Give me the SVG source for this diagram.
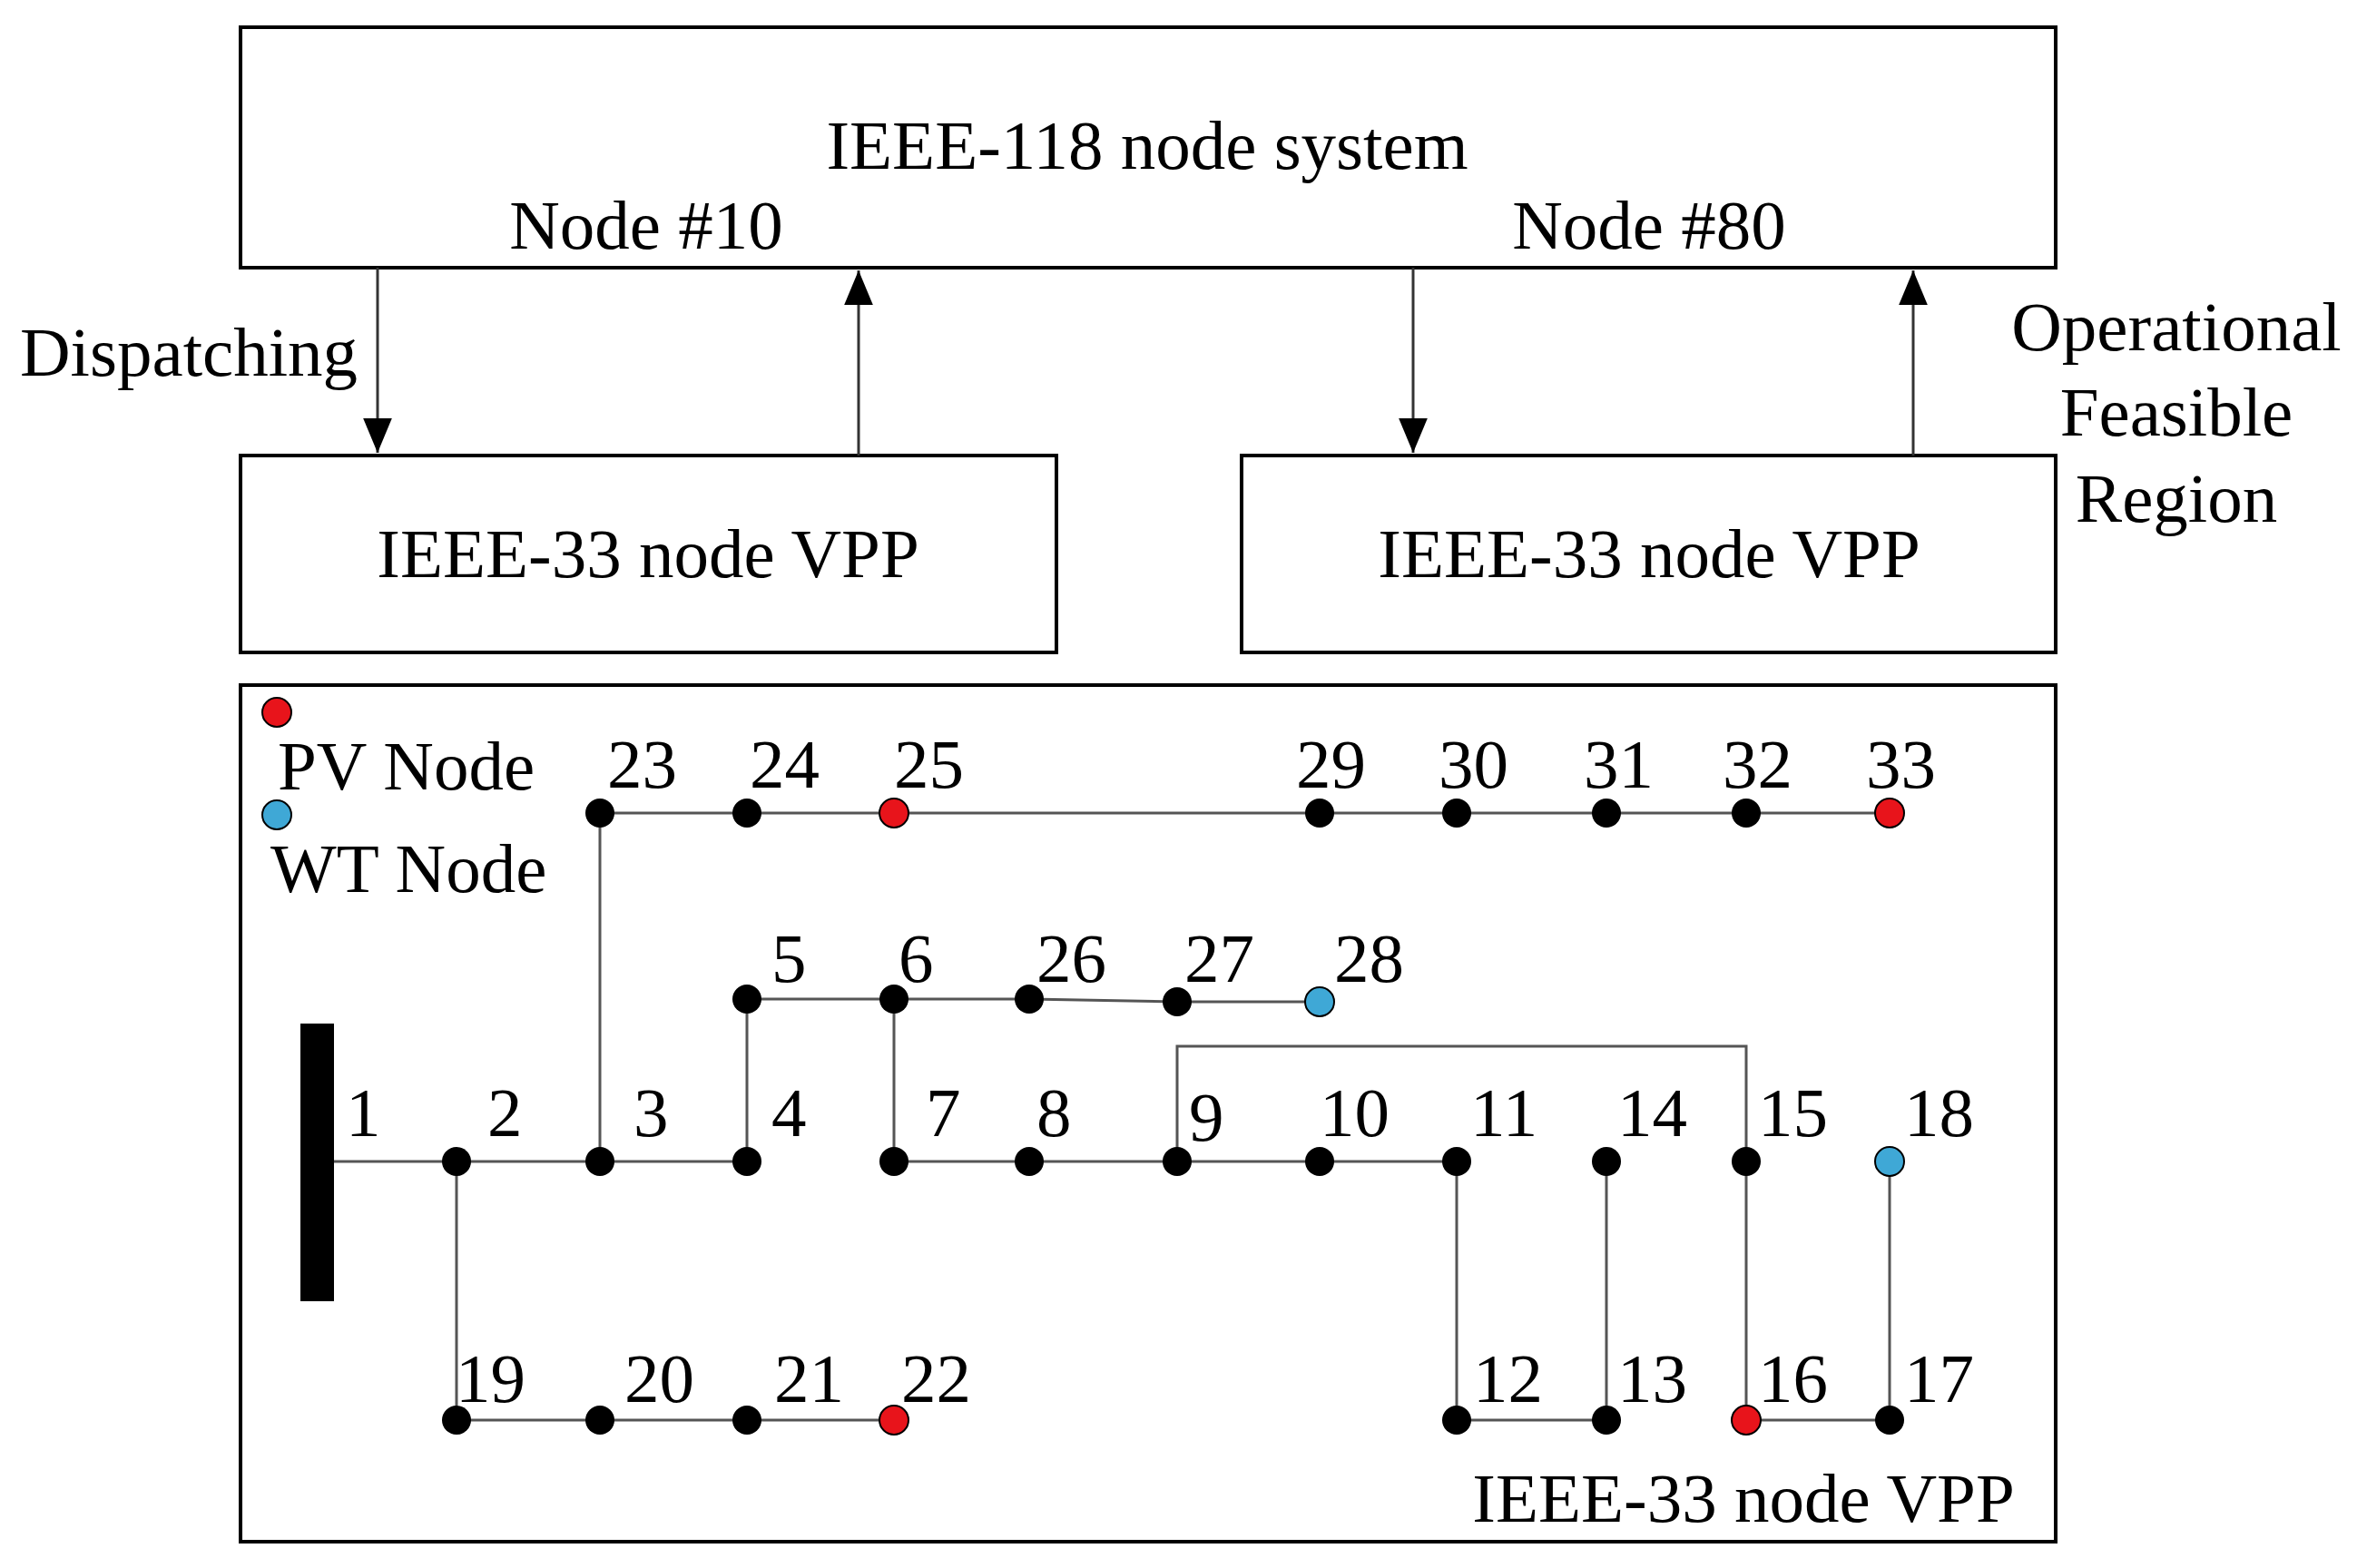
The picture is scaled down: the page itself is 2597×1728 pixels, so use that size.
<svg xmlns="http://www.w3.org/2000/svg" width="2597" height="1728" viewBox="0 0 2597 1728">
<defs>
<style>
text{font-family:"Liberation Serif","Times New Roman",serif;font-size:77px;fill:#000}
.box{fill:#fff;stroke:#000;stroke-width:4}
.ln{stroke:#555;stroke-width:3;fill:none}
.ar{stroke:#333;stroke-width:3;fill:none}
.n{fill:#000}.pv{fill:#e8141b;stroke:#000;stroke-width:2}.wt{fill:#3fa8d6;stroke:#000;stroke-width:2}
.c{text-anchor:middle}
</style>
<marker id="a" viewBox="0 0 12 10" refX="12" refY="5" markerWidth="38" markerHeight="32" orient="auto" markerUnits="userSpaceOnUse"><path d="M0,0L12,5L0,10z" fill="#000"/></marker>
</defs>
<rect width="2597" height="1728" fill="#fff"/>
<g id="sys118"><rect class="box" x="265" y="30" width="2000" height="265"/>
<text class="c" x="1264" y="186">IEEE-118 node system</text>
<text class="c" x="712" y="274">Node #10</text>
<text class="c" x="1817" y="274">Node #80</text></g>
<g id="vpp1"><rect class="box" x="265" y="502" width="899" height="217"/><text class="c" x="714" y="636">IEEE-33 node VPP</text></g>
<g id="vpp2"><rect class="box" x="1368" y="502" width="897" height="217"/><text class="c" x="1817" y="636">IEEE-33 node VPP</text></g>
<g id="labels"><text x="22" y="414">Dispatching</text>
<text class="c" x="2398" y="386">Operational</text><text class="c" x="2398" y="480">Feasible</text><text class="c" x="2398" y="575">Region</text></g>
<g id="connectors">
<line class="ar" x1="416" y1="295" x2="416" y2="499" marker-end="url(#a)"/>
<line class="ar" x1="946" y1="502" x2="946" y2="298" marker-end="url(#a)"/>
<line class="ar" x1="1557" y1="295" x2="1557" y2="499" marker-end="url(#a)"/>
<line class="ar" x1="2108" y1="502" x2="2108" y2="298" marker-end="url(#a)"/>
</g>
<g id="network"><rect class="box" x="265" y="755" width="2000" height="944"/>
<rect x="331" y="1128" width="37" height="306" fill="#000"/>
<path class="ln" d="M368,1280H823M985,1280H1605M503,1280V1565H985M661,1280V896H2082M823,1280V1101H1134L1297,1104H1454M985,1101V1280M1297,1280V1153H1924V1565H2082V1280M1605,1280V1565H1770V1280"/>
<g class="n">
<circle cx="661" cy="896" r="16"/><circle cx="823" cy="896" r="16"/><circle cx="1454" cy="896" r="16"/><circle cx="1605" cy="896" r="16"/><circle cx="1770" cy="896" r="16"/><circle cx="1924" cy="896" r="16"/>
<circle cx="823" cy="1101" r="16"/><circle cx="985" cy="1101" r="16"/><circle cx="1134" cy="1101" r="16"/><circle cx="1297" cy="1104" r="16"/>
<circle cx="503" cy="1280" r="16"/><circle cx="661" cy="1280" r="16"/><circle cx="823" cy="1280" r="16"/><circle cx="985" cy="1280" r="16"/><circle cx="1134" cy="1280" r="16"/><circle cx="1297" cy="1280" r="16"/><circle cx="1454" cy="1280" r="16"/><circle cx="1605" cy="1280" r="16"/><circle cx="1770" cy="1280" r="16"/><circle cx="1924" cy="1280" r="16"/>
<circle cx="503" cy="1565" r="16"/><circle cx="661" cy="1565" r="16"/><circle cx="823" cy="1565" r="16"/><circle cx="1605" cy="1565" r="16"/><circle cx="1770" cy="1565" r="16"/><circle cx="2082" cy="1565" r="16"/>
</g>
<circle class="pv" cx="985" cy="896" r="16"/><circle class="pv" cx="2082" cy="896" r="16"/><circle class="pv" cx="985" cy="1565" r="16"/><circle class="pv" cx="1924" cy="1565" r="16"/>
<circle class="wt" cx="1454" cy="1104" r="16"/><circle class="wt" cx="2082" cy="1280" r="16"/>
<circle class="pv" cx="305" cy="785" r="16"/><circle class="wt" cx="305" cy="898" r="16"/>
<text x="306" y="870">PV Node</text><text x="298" y="983">WT Node</text>
<g>
<text x="669" y="868">23</text><text x="826" y="868">24</text><text x="985" y="868">25</text><text x="1428" y="868">29</text><text x="1585" y="868">30</text><text x="1745" y="868">31</text><text x="1898" y="868">32</text><text x="2056" y="868">33</text>
<text x="850" y="1082">5</text><text x="990" y="1082">6</text><text x="1142" y="1082">26</text><text x="1305" y="1082">27</text><text x="1470" y="1082">28</text>
<text x="381" y="1252">1</text><text x="537" y="1252">2</text><text x="698" y="1252">3</text><text x="850" y="1252">4</text><text x="1020" y="1252">7</text><text x="1142" y="1252">8</text><text x="1310" y="1257">9</text><text x="1454" y="1252">10</text><text x="1620" y="1252">11</text><text x="1782" y="1252">14</text><text x="1937" y="1252">15</text><text x="2098" y="1252">18</text>
<text x="502" y="1545">19</text><text x="688" y="1545">20</text><text x="853" y="1545">21</text><text x="993" y="1545">22</text><text x="1623" y="1545">12</text><text x="1782" y="1545">13</text><text x="1937" y="1545">16</text><text x="2098" y="1545">17</text>
</g>
<text class="c" x="1921" y="1677">IEEE-33 node VPP</text>
</g>
</svg>
